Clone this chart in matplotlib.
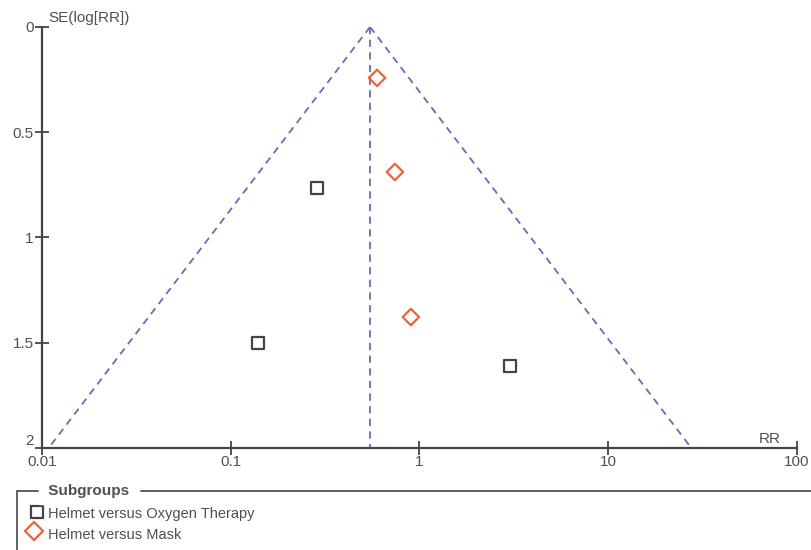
import numpy as np
import matplotlib.pyplot as plt
from matplotlib.patches import Rectangle
from matplotlib.lines import Line2D

plt.rcParams['font.family'] = ['Liberation Sans', 'DejaVu Sans']

# study estimates
oxy_rr = [0.286, 0.139, 3.01]
oxy_se = [0.765, 1.50, 1.61]
mask_rr = [0.596, 0.741, 0.90]
mask_se = [0.242, 0.689, 1.378]
pooled_rr = 0.547
se_max = 2.0

xticks = [0.01, 0.1, 1, 10, 100]
xtick_labels = ['0.01', '0.1', '1', '10', '100']
yticks = [0, 0.5, 1, 1.5, 2]
ytick_labels = ['0', '0.5', '1', '1.5', '2']

txt = '#505050'
funnel_col = '#6a6ab8'
orange = '#e8643c'

fig = plt.figure(figsize=(8.12, 5.5), dpi=100)
ax = fig.add_axes([0.0517, 0.1855, 0.9298, 0.7655])

# funnel (95% limits) and pooled line
se = np.array([0, se_max])
ax.plot(pooled_rr * np.exp(-1.96 * se), se, '--', color=funnel_col, lw=1.3, dashes=(4, 3))
ax.plot(pooled_rr * np.exp(1.96 * se), se, '--', color=funnel_col, lw=1.3, dashes=(4, 3))
ax.plot([pooled_rr, pooled_rr], [0, se_max], '--', color=funnel_col, lw=1.3, dashes=(4, 3))

ax.scatter(oxy_rr, oxy_se, marker='s', s=70, facecolors='none', edgecolors='#444444', linewidths=1.6, zorder=3)
ax.scatter(mask_rr, mask_se, marker='D', s=70, facecolors='none', edgecolors=orange, linewidths=1.6, zorder=3)

ax.set_xscale('log')
ax.set_xlim(0.01, 100)
ax.set_ylim(2, 0)
ax.set_xticks(xticks)
ax.set_xticklabels(xtick_labels)
ax.set_yticks(yticks)
ax.set_yticklabels(ytick_labels)
ax.minorticks_off()
for s in ['top', 'right']:
    ax.spines[s].set_visible(False)
for s in ['left', 'bottom']:
    ax.spines[s].set_color('#444444')
    ax.spines[s].set_linewidth(1.6)
ax.tick_params(direction='inout', length=10, width=1.3, color='#444444',
               labelcolor=txt, labelsize=11, pad=1)
ax.tick_params(axis='x', pad=0)
for lab in ax.get_yticklabels():
    if lab.get_text() == '2':
        lab.set_va('bottom')

ax.text(0.0108, -0.01, 'SE(log[RR])', color=txt, fontsize=11, ha='left', va='bottom')
ax.text(82, 1.99, 'RR', color=txt, fontsize=11, ha='right', va='bottom')

# legend box
W, H = 812, 550
def fx(px):
    return px / W
def fy(py):
    return 1 - py / H

fig.patches.append(Rectangle((fx(17), fy(560)), fx(820) - fx(17), fy(491) - fy(560),
                             transform=fig.transFigure, fill=False, edgecolor='#555555', lw=1.3))
fig.text(fx(44), fy(491), ' Subgroups ', color=txt, fontsize=11, fontweight='bold',
         ha='left', va='center', backgroundcolor='white')
fig.lines.append(Line2D([fx(37)], [fy(512)], marker='s', ms=9, mfc='none', mec='#444444', mew=1.6,
                        transform=fig.transFigure))
fig.lines.append(Line2D([fx(34)], [fy(531)], marker='D', ms=9, mfc='none', mec=orange, mew=1.6,
                        transform=fig.transFigure))
fig.text(fx(48), fy(514), 'Helmet versus Oxygen Therapy', color=txt, fontsize=10.5, ha='left', va='center')
fig.text(fx(48), fy(535), 'Helmet versus Mask', color=txt, fontsize=10.5, ha='left', va='center')

fig.savefig('out.png', dpi=100)
